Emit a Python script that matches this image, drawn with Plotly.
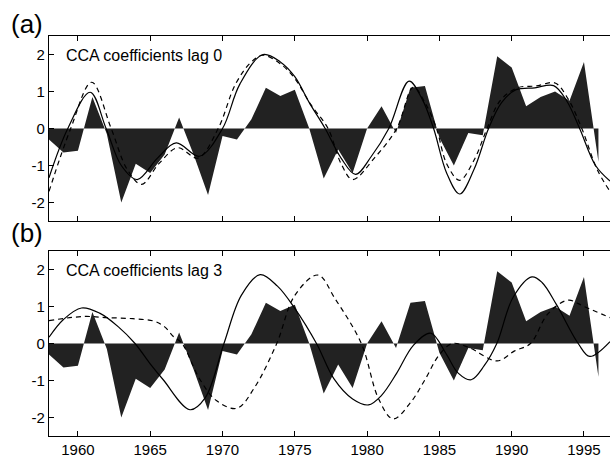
import plotly.graph_objects as go

# ---- data ----
years = list(range(1958, 1997))
cca_index = [-0.3, -0.65, -0.6, 0.85, -0.15, -2.0, -0.95, -1.2, -0.7, 0.3,
             -0.7, -1.8, -0.2, -0.3, 0.25, 1.1, 0.88, 1.05, 0.0, -1.35,
             -0.57, -1.2, 0.0, 0.6, -0.12, 1.1, 1.15, -0.25, -1.0, -0.12,
             -0.18, 1.95, 1.65, 0.6, 0.85, 1.0, 0.75, 1.8, -0.9]

lag0_solid_x = [1958.0, 1959.3, 1960.85, 1961.95, 1963.0, 1964.1, 1965.5, 1966.8, 1968.4, 1970.0,
                1971.2, 1972.8, 1974.0, 1975.0, 1976.0, 1977.1, 1978.2, 1979.2, 1980.3, 1981.5,
                1982.9, 1983.8, 1984.6, 1985.5, 1986.4, 1987.4, 1988.4, 1989.3, 1990.3, 1991.6,
                1992.9, 1993.8, 1994.7, 1995.8, 1996.8]
lag0_solid_y = [-1.33, 0, 0.98, 0, -1.0, -1.38, -0.8, -0.39, -0.75, 0,
                1.2, 2.0, 1.8, 1.4, 0.7, 0, -0.8, -1.24, -0.75, 0,
                1.28, 0.8, 0, -1.2, -1.77, -1.1, 0, 0.7, 1.05, 1.1,
                1.16, 0.75, 0, -1.0, -1.42]

lag0_dash_x = [1958.0, 1959.5, 1960.95, 1962.3, 1963.4, 1964.4, 1965.6, 1966.9, 1968.3, 1969.7,
               1970.9, 1972.0, 1972.8, 1974.0, 1975.0, 1976.1, 1977.3, 1978.2, 1979.0, 1980.5,
               1982.05, 1983.2, 1984.0, 1984.8, 1985.5, 1986.4, 1987.4, 1988.3, 1989.2, 1990.4,
               1991.7, 1993.0, 1993.9, 1994.85, 1995.9, 1996.8]
lag0_dash_y = [-1.7, 0, 1.25, 0, -1.1, -1.51, -0.95, -0.52, -0.8, 0,
               1.2, 1.8, 1.98, 1.75, 1.35, 0.65, 0, -0.95, -1.38, -0.8,
               0, 1.12, 0.7, 0, -0.95, -1.4, -0.85, 0, 0.75, 1.1,
               1.15, 1.23, 0.8, 0, -1.1, -1.7]

lag3_solid_x = [1958.0, 1959.0, 1960.25, 1961.5, 1962.8, 1963.95, 1965.0, 1965.9, 1967.75, 1968.8,
                1970.1, 1971.3, 1972.6, 1973.8, 1975.0, 1976.5, 1977.7, 1979.0, 1980.1, 1981.0,
                1982.05, 1983.2, 1984.4, 1985.5, 1986.3, 1987.2, 1988.1, 1988.97, 1990.1, 1991.4,
                1992.1, 1993.1, 1994.6, 1995.4, 1996.8]
lag3_solid_y = [0.17, 0.65, 0.96, 0.82, 0.45, 0, -0.55, -0.98, -1.79, -1.47,
                0, 1.3, 1.86, 1.55, 0.95, 0, -0.95, -1.5, -1.66, -1.4,
                -0.8, -0.05, 0.28, -0.3, -0.8, -0.98, -0.6, 0, 1.25, 1.8,
                1.65, 1.05, 0, -0.35, 0.05]

lag3_dash_x = [1958.0, 1960.4, 1962.0, 1963.8, 1965.3, 1966.0, 1966.6, 1967.2, 1968.45, 1969.6,
               1971.0, 1972.2, 1973.75, 1975.0, 1976.6, 1977.8, 1979.6, 1980.8, 1981.8, 1983.0,
               1984.0, 1985.0, 1985.9, 1987.0, 1989.0, 1990.2, 1991.3, 1992.5, 1993.9, 1995.0,
               1996.8]
lag3_dash_y = [0.62, 0.73, 0.7, 0.67, 0.6, 0.45, 0.19, 0, -0.98, -1.55,
               -1.75, -1.2, 0, 1.3, 1.85, 1.2, 0, -1.5, -2.04, -1.6,
               -0.98, -0.3, 0.0, -0.1, -0.47, -0.2, 0, 0.8, 1.17, 1.0,
               0.7]

xticks = [1960, 1965, 1970, 1975, 1980, 1985, 1990, 1995]
yticks = [-2, -1, 0, 1, 2]
yticklabels = ["-2", "-1", "0", "1", "2"]
panel_labels = ["(a)", "(b)"]
panel_titles = ["CCA coefficients lag 0", "CCA coefficients lag 3"]

FONT = "Liberation Sans, Arial, Helvetica, sans-serif"
FILL = "#222222"
XR = [1958, 1996.8]
YR = [-2.5, 2.5]

fig = go.Figure()

panels = [
    ("x", "y", lag0_solid_x, lag0_solid_y, lag0_dash_x, lag0_dash_y),
    ("x2", "y2", lag3_solid_x, lag3_solid_y, lag3_dash_x, lag3_dash_y),
]
for xa, ya, sx, sy, dx, dy in panels:
    fig.add_trace(go.Scatter(x=years, y=cca_index, mode="lines", fill="tozeroy",
                             fillcolor=FILL, line=dict(width=0, color=FILL),
                             xaxis=xa, yaxis=ya, showlegend=False, hoverinfo="skip"))
    fig.add_trace(go.Scatter(x=sx, y=sy, mode="lines",
                             line=dict(color="black", width=1.2, shape="spline", smoothing=1.0),
                             xaxis=xa, yaxis=ya, showlegend=False))
    fig.add_trace(go.Scatter(x=dx, y=dy, mode="lines",
                             line=dict(color="black", width=1.2, dash="5px,4px",
                                       shape="spline", smoothing=1.0),
                             xaxis=xa, yaxis=ya, showlegend=False))

tickfont = dict(family=FONT, size=15, color="black")
common_x = dict(range=XR, tickvals=xticks, ticks="inside", ticklen=5, tickwidth=1,
                tickcolor="black", showline=True, linecolor="black", linewidth=1.2,
                mirror="ticks", showgrid=False, zeroline=False, tickfont=tickfont)
common_y = dict(range=YR, tickvals=yticks, ticktext=yticklabels, ticks="inside", ticklen=5,
                tickwidth=1, tickcolor="black", showline=True, linecolor="black",
                linewidth=1.2, mirror=False, showgrid=False, zeroline=False, tickfont=tickfont)
right_y = dict(range=YR, tickvals=yticks, ticks="inside", ticklen=5, tickwidth=1,
               tickcolor="black", showline=False, showticklabels=False, showgrid=False,
               zeroline=False, side="right")

fig.update_layout(
    width=610, height=459,
    margin=dict(l=49, r=0, t=36, b=23),
    paper_bgcolor="white", plot_bgcolor="white",
    showlegend=False,
    xaxis=dict(domain=[0, 1], anchor="y", showticklabels=False, **common_x),
    yaxis=dict(domain=[0.5375, 1.0], anchor="x", **common_y),
    xaxis2=dict(domain=[0, 1], anchor="y2", showticklabels=True, **common_x),
    yaxis2=dict(domain=[0, 0.4625], anchor="x2", **common_y),
    xaxis3=dict(range=XR, tickvals=xticks, overlaying="x2", anchor="y2", side="top",
                ticks="", showline=False, showgrid=False, zeroline=False,
                showticklabels=True, tickfont=tickfont),
    yaxis3=dict(overlaying="y", anchor="x", **right_y),
    yaxis4=dict(overlaying="y2", anchor="x2", **right_y),
)

# panel letters and titles
fig.add_annotation(text=panel_labels[0], xref="paper", yref="paper", x=-0.072, y=1.03,
                   xanchor="left", yanchor="middle", showarrow=False,
                   font=dict(family=FONT, size=26, color="black"))
fig.add_annotation(text=panel_labels[1], xref="paper", yref="paper", x=-0.072, y=0.508,
                   xanchor="left", yanchor="middle", showarrow=False,
                   font=dict(family=FONT, size=26, color="black"))
fig.add_annotation(text=panel_titles[0], xref="x", yref="y", x=1959.05, y=1.97,
                   xanchor="left", yanchor="middle", showarrow=False,
                   font=dict(family=FONT, size=16, color="black"))
fig.add_annotation(text=panel_titles[1], xref="x2", yref="y2", x=1959.05, y=1.97,
                   xanchor="left", yanchor="middle", showarrow=False,
                   font=dict(family=FONT, size=16, color="black"))

fig.write_html("out.html")
